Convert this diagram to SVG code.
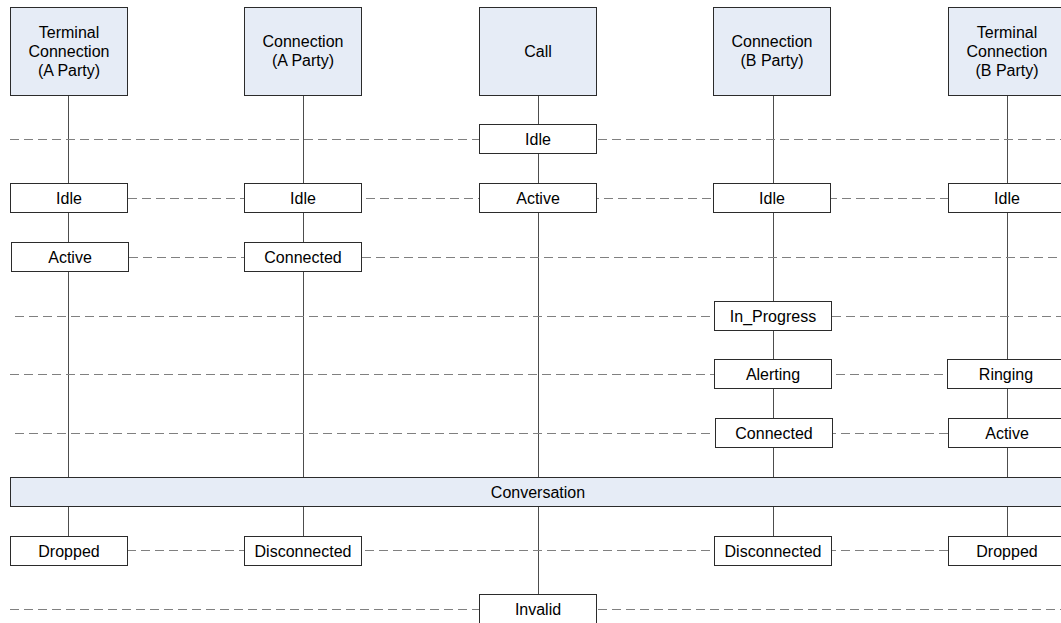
<svg xmlns="http://www.w3.org/2000/svg" width="1061" height="623" viewBox="0 0 1061 623">
  <style>
    .hdr { fill: #e6ecf6; stroke: #2b2b2b; stroke-width: 1; }
    .st { fill: #ffffff; stroke: #2b2b2b; stroke-width: 1; }
    .bar { fill: #e6ecf6; stroke: #2b2b2b; stroke-width: 1; }
    .life { stroke: #4d4d4d; stroke-width: 1; fill: none; }
    .dash { stroke: #808080; stroke-width: 1; stroke-dasharray: 9 5; fill: none; }
    text { font-family: "Liberation Sans", Arial, sans-serif; font-size: 16px; fill: #000; text-anchor: middle; }
  </style>

  <!-- connectors: lifelines and dashed state rows -->
  <g id="connectors">
    <line class="life" x1="68.5" y1="96" x2="68.5" y2="536"/>
    <line class="life" x1="303.5" y1="96" x2="303.5" y2="536"/>
    <line class="life" x1="538.5" y1="96" x2="538.5" y2="594"/>
    <line class="life" x1="773.5" y1="96" x2="773.5" y2="536"/>
    <line class="life" x1="1007.5" y1="96" x2="1007.5" y2="536"/>

    <line class="dash" x1="10" y1="139.5" x2="1061" y2="139.5"/>
    <line class="dash" x1="128" y1="198.5" x2="948" y2="198.5"/>
    <line class="dash" x1="129" y1="257.5" x2="244" y2="257.5"/>
    <line class="dash" x1="362" y1="257.5" x2="1061" y2="257.5"/>
    <line class="dash" x1="15" y1="316.5" x2="714" y2="316.5"/>
    <line class="dash" x1="832" y1="316.5" x2="1061" y2="316.5"/>
    <line class="dash" x1="10" y1="374.5" x2="947" y2="374.5"/>
    <line class="dash" x1="15" y1="433.5" x2="948" y2="433.5"/>
    <line class="dash" x1="127" y1="550.5" x2="948" y2="550.5"/>
    <line class="dash" x1="10" y1="609.5" x2="1061" y2="609.5"/>
  </g>

  <!-- column headers -->
  <g id="hdr-term-a">
    <rect class="hdr" x="10.5" y="7.5" width="117" height="88"/>
    <text x="69" y="38">Terminal</text>
    <text x="69" y="57">Connection</text>
    <text x="69" y="76">(A Party)</text>
  </g>
  <g id="hdr-conn-a">
    <rect class="hdr" x="244.5" y="7.5" width="117" height="88"/>
    <text x="303" y="47">Connection</text>
    <text x="303" y="66">(A Party)</text>
  </g>
  <g id="hdr-call">
    <rect class="hdr" x="479.5" y="7.5" width="117" height="88"/>
    <text x="538" y="57">Call</text>
  </g>
  <g id="hdr-conn-b">
    <rect class="hdr" x="713.5" y="7.5" width="117" height="88"/>
    <text x="772" y="47">Connection</text>
    <text x="772" y="66">(B Party)</text>
  </g>
  <g id="hdr-term-b">
    <rect class="hdr" x="948.5" y="7.5" width="117" height="88"/>
    <text x="1007" y="38">Terminal</text>
    <text x="1007" y="57">Connection</text>
    <text x="1007" y="76">(B Party)</text>
  </g>

  <!-- call states -->
  <g id="call-idle">
    <rect class="st" x="479.5" y="124.5" width="117" height="29"/>
    <text x="538" y="145">Idle</text>
  </g>

  <!-- initial idle row -->
  <g id="term-a-idle">
    <rect class="st" x="10.5" y="183.5" width="117" height="29"/>
    <text x="69" y="204">Idle</text>
  </g>
  <g id="conn-a-idle">
    <rect class="st" x="244.5" y="183.5" width="117" height="29"/>
    <text x="303" y="204">Idle</text>
  </g>
  <g id="call-active">
    <rect class="st" x="479.5" y="183.5" width="117" height="29"/>
    <text x="538" y="204">Active</text>
  </g>
  <g id="conn-b-idle">
    <rect class="st" x="713.5" y="183.5" width="117" height="29"/>
    <text x="772" y="204">Idle</text>
  </g>
  <g id="term-b-idle">
    <rect class="st" x="948.5" y="183.5" width="117" height="29"/>
    <text x="1007" y="204">Idle</text>
  </g>

  <!-- A party setup -->
  <g id="term-a-active">
    <rect class="st" x="11.5" y="242.5" width="117" height="29"/>
    <text x="70" y="263">Active</text>
  </g>
  <g id="conn-a-connected">
    <rect class="st" x="244.5" y="242.5" width="117" height="29"/>
    <text x="303" y="263">Connected</text>
  </g>

  <!-- B party progress -->
  <g id="conn-b-inprogress">
    <rect class="st" x="714.5" y="301.5" width="117" height="29"/>
    <text x="773" y="322">In_Progress</text>
  </g>
  <g id="conn-b-alerting">
    <rect class="st" x="714.5" y="359.5" width="117" height="29"/>
    <text x="773" y="380">Alerting</text>
  </g>
  <g id="term-b-ringing">
    <rect class="st" x="947.5" y="359.5" width="117" height="29"/>
    <text x="1006" y="380">Ringing</text>
  </g>
  <g id="conn-b-connected">
    <rect class="st" x="715.5" y="418.5" width="117" height="29"/>
    <text x="774" y="439">Connected</text>
  </g>
  <g id="term-b-active">
    <rect class="st" x="948.5" y="418.5" width="117" height="29"/>
    <text x="1007" y="439">Active</text>
  </g>

  <!-- shared conversation phase -->
  <g id="conversation">
    <rect class="bar" x="10.5" y="477.5" width="1060" height="29"/>
    <text x="538" y="498">Conversation</text>
  </g>

  <!-- teardown -->
  <g id="term-a-dropped">
    <rect class="st" x="10.5" y="536.5" width="117" height="29"/>
    <text x="69" y="557">Dropped</text>
  </g>
  <g id="conn-a-disconnected">
    <rect class="st" x="244.5" y="536.5" width="117" height="29"/>
    <text x="303" y="557">Disconnected</text>
  </g>
  <g id="conn-b-disconnected">
    <rect class="st" x="714.5" y="536.5" width="117" height="29"/>
    <text x="773" y="557">Disconnected</text>
  </g>
  <g id="term-b-dropped">
    <rect class="st" x="948.5" y="536.5" width="117" height="29"/>
    <text x="1007" y="557">Dropped</text>
  </g>
  <g id="call-invalid">
    <rect class="st" x="479.5" y="594.5" width="117" height="29"/>
    <text x="538" y="615">Invalid</text>
  </g>
</svg>
